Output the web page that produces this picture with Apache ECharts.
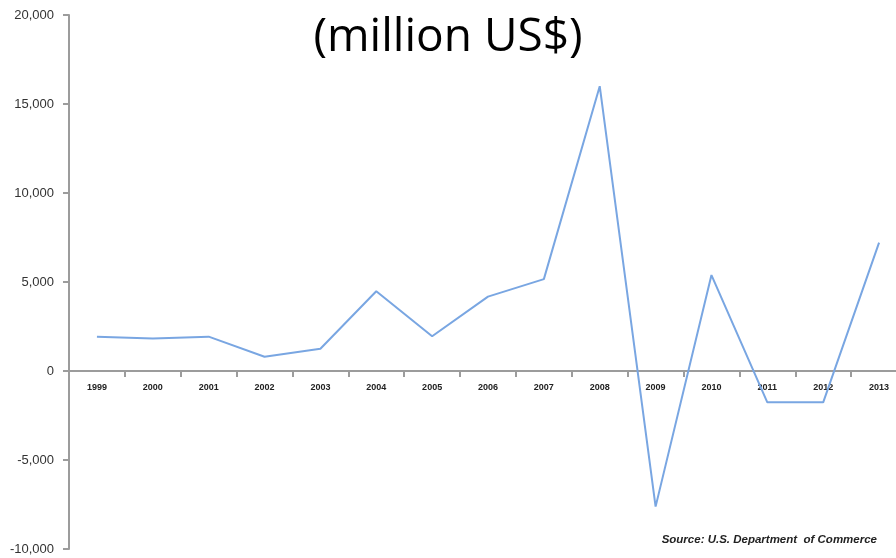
<!DOCTYPE html>
<html>
<head>
<meta charset="utf-8">
<style>
  html, body { margin: 0; padding: 0; background: #fff; }
  #chart { width: 896px; height: 558px; }
</style>
<script src="https://cdn.jsdelivr.net/npm/echarts@6/dist/echarts.min.js"></script>
</head>
<body>
<div id="chart"></div>
<script>
// Annual values, million US$
const years = ['1999','2000','2001','2002','2003','2004','2005','2006','2007','2008','2009','2010','2011','2012','2013'];
const values = [1930, 1820, 1930, 800, 1250, 4480, 1950, 4180, 5160, 16000, -7620, 5390, -1760, -1760, 7210];

const yMin = -10000;
const yMax = 20000;
const yStep = 5000;

const titleText = '(million US$)';
const sourceText = 'Source: U.S. Department  of Commerce';

const gridTop = 15;
const gridBottom = 9;
const chartHeight = 558;

// Lift the category axis (line, ticks and labels) onto the zero line
const plotHeight = chartHeight - gridTop - gridBottom;
const zeroOffset = -plotHeight * (0 - yMin) / (yMax - yMin);

const chart = echarts.init(document.getElementById('chart'), null, { renderer: 'canvas' });

chart.setOption({
  animation: false,
  backgroundColor: '#ffffff',
  title: {
    text: titleText,
    left: 'center',
    top: 10,
    textStyle: {
      fontFamily: 'Open Sans',
      fontWeight: 'normal',
      fontSize: 46,
      color: '#000000'
    }
  },
  grid: {
    left: 69, right: -11, top: gridTop, bottom: gridBottom,
    containLabel: false,
    outerBoundsMode: 'none'
  },
  xAxis: {
    type: 'category',
    data: years,
    position: 'bottom',
    offset: zeroOffset,
    boundaryGap: true,
    axisLine: { onZero: false, lineStyle: { color: '#9c9c9c', width: 2 } },
    axisTick: { show: true, length: 6, lineStyle: { color: '#9c9c9c', width: 2 } },
    axisLabel: {
      interval: 0,
      margin: 12,
      fontFamily: 'Liberation Sans',
      fontSize: 9,
      fontWeight: 'bold',
      color: '#222'
    },
    splitLine: { show: false }
  },
  yAxis: {
    type: 'value',
    min: yMin,
    max: yMax,
    interval: yStep,
    axisLine: { show: true, lineStyle: { color: '#9c9c9c', width: 2 } },
    axisTick: { show: true, length: 6, lineStyle: { color: '#9c9c9c', width: 2 } },
    axisLabel: {
      margin: 15,
      fontFamily: 'Liberation Sans',
      fontSize: 13,
      color: '#333',
      formatter: v => v.toLocaleString('en-US')
    },
    splitLine: { show: false }
  },
  series: [{
    type: 'line',
    data: values,
    symbol: 'none',
    lineStyle: { color: '#79a6e2', width: 2 }
  }],
  graphic: [{
    type: 'text',
    right: 19,
    top: 534,
    style: {
      text: sourceText,
      font: 'italic bold 11.5px "Liberation Sans"',
      fill: '#222'
    }
  }]
});
</script>
</body>
</html>
